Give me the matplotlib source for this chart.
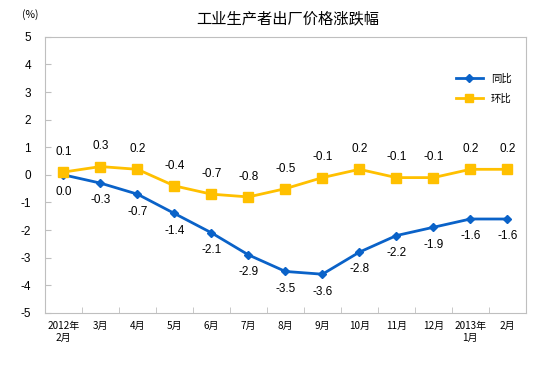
import matplotlib
matplotlib.use("Agg")
import matplotlib.pyplot as plt

plt.rcParams["font.family"] = ["Noto Sans CJK SC", "DejaVu Sans"]

months = ["2012年\n2月", "3月", "4月", "5月", "6月", "7月", "8月", "9月",
          "10月", "11月", "12月", "2013年\n1月", "2月"]
yoy = [0.0, -0.3, -0.7, -1.4, -2.1, -2.9, -3.5, -3.6, -2.8, -2.2, -1.9, -1.6, -1.6]
mom = [0.1, 0.3, 0.2, -0.4, -0.7, -0.8, -0.5, -0.1, 0.2, -0.1, -0.1, 0.2, 0.2]

blue = "#0A62C8"
yellow = "#FFC000"
grey = "#BFBFBF"
num_font = ["Liberation Sans", "DejaVu Sans"]

fig = plt.figure(figsize=(5.54, 3.72), dpi=100)
ax = fig.add_axes([0.0812, 0.159, 0.868, 0.742])

x = list(range(len(months)))
ax.plot(x, yoy, color=blue, lw=2, marker="D", ms=4.5, label="同比")
ax.plot(x, mom, color=yellow, lw=2, marker="s", ms=6.5, label="环比")

for i in x:
    ax.annotate(f"{yoy[i]:.1f}", (i, yoy[i]), xytext=(0, -12.5), textcoords="offset points",
                ha="center", va="center", fontsize=8.5, family=num_font)
    ax.annotate(f"{mom[i]:.1f}", (i, mom[i]), xytext=(0, 14.5), textcoords="offset points",
                ha="center", va="center", fontsize=8.5, family=num_font)

ax.set_xlim(-0.5, len(months) - 0.5)
ax.set_ylim(-5, 5)
ax.set_yticks(range(-5, 6))
ax.set_yticklabels([str(v) for v in range(-5, 6)], family=num_font, fontsize=8.5)
ax.set_xticks(x)
ax.set_xticklabels(months, fontsize=7.2)
ax.set_xticks([i - 0.5 for i in range(len(months) + 1)], minor=True)
ax.tick_params(axis="x", which="major", length=0, pad=6)
ax.tick_params(axis="x", which="minor", direction="in", length=4, color=grey)
ax.tick_params(axis="y", direction="in", length=4, color=grey, pad=10)
for s in ax.spines.values():
    s.set_color(grey)

ax.legend(loc="upper right", bbox_to_anchor=(0.99, 0.9), frameon=False, fontsize=7.5,
          handlelength=2.6, labelspacing=0.9, markerscale=0.8)

fig.text(0.52, 0.95, "工业生产者出厂价格涨跌幅", ha="center", va="center", fontsize=11)
fig.text(0.055, 0.96, "(%)", ha="center", va="center", fontsize=7.5)

fig.savefig("out.png", dpi=100)
